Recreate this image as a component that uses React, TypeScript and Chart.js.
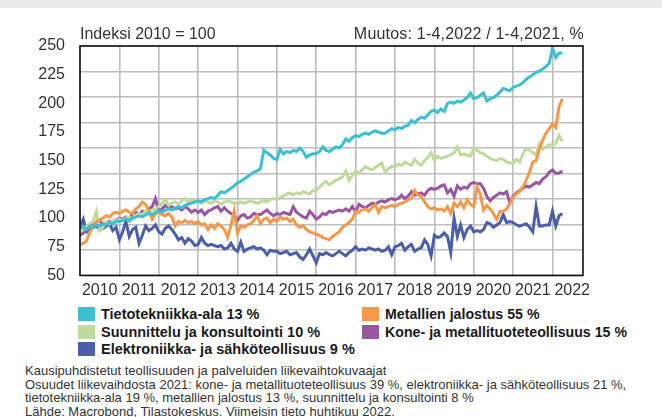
import React, { useEffect, useRef } from "react";
import { Chart, registerables } from "chart.js";

Chart.register(...registerables);

const START_YEAR = 2010;
const YEAR_LABELS = ["2010", "2011", "2012", "2013", "2014", "2015", "2016", "2017", "2018", "2019", "2020", "2021", "2022"];
const Y_TICKS = [50, 75, 100, 125, 150, 175, 200, 225, 250];

// Monthly index values (2010 = 100), Jan 2010 .. Apr 2022
const tietotekniikka = [
  91, 92, 90, 93, 92, 94, 93, 95, 94, 96, 95, 97,
  97, 98, 99, 98, 100, 101, 102, 101, 103, 104, 103, 105,
  106, 105, 107, 108, 107, 109, 110, 109, 111, 112, 113, 114,
  115, 114, 116, 117, 118, 117, 120, 123, 122, 124, 126, 128,
  131, 132, 134, 136, 138, 140, 141, 143, 159, 157, 155, 152,
  151, 160, 156, 158, 157, 159, 158, 161, 158, 153, 155, 156,
  156, 158, 162, 159, 158, 160, 162, 161, 164, 169, 167, 170,
  172, 171, 173, 174, 173, 175, 176, 175, 174, 174, 176, 178,
  177, 179, 178, 180, 181, 185, 183, 186, 188, 187, 190, 193,
  194, 192, 195, 193, 200, 201, 200, 202, 201, 203, 205, 209,
  204, 205, 207, 209, 202, 204, 205, 207, 210, 213, 212, 211,
  214, 215, 216, 218, 221, 223, 225, 227, 228, 230, 232, 235,
  248, 240, 244, 244,
];

const suunnittelu = [
  91, 90, 93, 95, 97, 106, 89, 92, 97, 95, 98, 97,
  99, 98, 100, 101, 99, 102, 104, 103, 106, 105, 107, 108,
  110, 113, 116, 111, 113, 114, 112, 115, 117, 114, 116, 115,
  114, 113, 115, 114, 113, 115, 114, 112, 114, 115, 114, 113,
  113, 114, 113, 114, 115, 114, 113, 114, 115, 114, 116, 117,
  116, 118, 119, 121, 122, 120, 122, 121, 123, 122, 121, 124,
  124, 127, 130, 132, 129, 131, 133, 134, 136, 141, 133, 137,
  141, 139, 142, 145, 143, 142, 144, 146, 148, 140, 143, 145,
  145, 147, 146, 149, 147, 146, 151, 148, 146, 150, 153, 157,
  150, 154, 152, 153, 154, 155, 157, 162, 155, 156, 155, 154,
  161, 159, 157, 156, 154, 152, 151, 150, 152, 151, 149, 148,
  148, 151, 149, 156, 161, 159, 157, 155, 165, 160, 162, 164,
  164, 165, 172, 167,
];

const elektroniikka = [
  92, 99, 88, 90, 92, 93, 90, 91, 93, 95, 89, 92,
  81, 88, 97, 84, 90, 92, 78, 85, 93, 89, 91, 94,
  88, 86, 91, 93, 90, 86, 81, 83, 78, 82, 80, 76,
  77, 83, 78, 76, 77, 76, 75, 76, 73, 74, 78, 73,
  71, 79, 71, 73, 74, 75, 73, 74, 72, 68, 72, 71,
  71, 69, 70, 71, 68, 69, 70, 66, 64, 68, 73, 67,
  61, 69, 68, 70, 68, 67, 69, 71, 69, 67, 70, 72,
  75, 72, 73, 72, 74, 73, 72, 73, 71, 72, 75, 68,
  75, 76, 78, 72, 75, 77, 71, 73, 74, 81, 77, 67,
  85, 83, 84, 87, 84, 70, 100, 84, 94, 83, 90, 93,
  88, 89, 88, 90, 96, 95, 92, 94, 96, 103, 96, 97,
  96, 94, 93, 94, 95, 92, 88, 110, 93, 93, 94, 94,
  106, 93, 102, 104,
];

const metallienJalostus = [
  77, 78, 80, 88, 92, 97, 98, 100, 102, 101, 104, 105,
  104, 106, 107, 105, 104, 108, 110, 114, 112, 106, 99, 104,
  105, 103, 102, 104, 101, 93, 97, 96, 98, 96, 97, 95,
  97, 94, 95, 90, 94, 91, 95, 93, 90, 83, 94, 106,
  87, 93, 92, 94, 95, 98, 102, 95, 99, 100, 96, 99,
  97, 101, 99, 100, 97, 99, 94, 92, 93, 90, 88, 87,
  86, 85, 83, 82, 81, 84, 86, 88, 92, 94, 96, 99,
  106, 105, 107, 108, 106, 109, 112, 105, 110, 109, 110, 111,
  110, 112, 113, 114, 116, 117, 124, 120, 119, 114, 110, 108,
  109, 107, 108, 106, 110, 104, 113, 110, 114, 109, 116, 112,
  110, 127, 121, 107, 111, 108, 104, 99, 106, 106, 108, 113,
  118, 121, 123, 127, 133, 140, 149, 150, 160, 168, 174, 178,
  182, 179, 197, 204,
];

const koneJaMetallituote = [
  85, 87, 90, 93, 96, 95, 98, 94, 96, 97, 95, 98,
  100, 99, 101, 98, 104, 105, 103, 106, 104, 108, 110, 117,
  106, 108, 111, 109, 110, 108, 109, 107, 110, 108, 105, 107,
  105, 107, 103, 106, 107, 109, 110, 106, 109, 106, 104, 103,
  98, 102, 103, 100, 101, 104, 103, 103, 105, 107, 104, 102,
  104, 103, 105, 104, 103, 110, 105, 103, 101, 100, 106, 103,
  99, 101, 104, 103, 106, 105, 106, 107, 106, 108, 106, 110,
  105, 112, 110, 109, 111, 113, 112, 114, 115, 114, 116, 117,
  116, 117, 120, 117, 119, 123, 120, 121, 122, 120, 124, 126,
  125, 126, 128, 129, 122, 125, 119, 128, 125, 127, 126, 130,
  131, 130, 130, 126, 119, 115, 118, 120, 122, 121, 123, 113,
  119, 122, 124, 126, 128, 127, 129, 131, 130, 134, 136, 140,
  142, 139, 139, 141,
];

const SERIES = [
  { label: "Tietotekniikka-ala 13 %", values: tietotekniikka, color: "#3dbfd3" },
  { label: "Metallien jalostus 55 %", values: metallienJalostus, color: "#f7974a" },
  { label: "Suunnittelu ja konsultointi 10 %", values: suunnittelu, color: "#bedb9c" },
  { label: "Kone- ja metallituoteteollisuus 15 %", values: koneJaMetallituote, color: "#9a56a3" },
  { label: "Elektroniikka- ja sähköteollisuus 9 %", values: elektroniikka, color: "#4a5ea9" },
];

const FOOTNOTES = [
  "Kausipuhdistetut teollisuuden ja palveluiden liikevaihtokuvaajat",
  "Osuudet liikevaihdosta 2021: kone- ja metallituoteteollisuus 39 %, elektroniikka- ja sähköteollisuus 21 %,",
  "tietotekniikka-ala 19 %, metallien jalostus 13 %, suunnittelu ja konsultointi 8 %",
  "Lähde: Macrobond, Tilastokeskus. Viimeisin tieto huhtikuu 2022.",
];

const FONT = "'Liberation Sans', Arial, sans-serif";
const GRID = "#bdbdbd";
const TEXT = "#333333";

const framePlugin = {
  id: "frame",
  afterDraw(chart: any) {
    const { ctx, chartArea } = chart;
    ctx.save();
    ctx.strokeStyle = "#111";
    ctx.lineWidth = 1.6;
    ctx.strokeRect(chartArea.left, chartArea.top, chartArea.right - chartArea.left, chartArea.bottom - chartArea.top);
    ctx.restore();
  },
};

function LineChart() {
  const ref = useRef<HTMLCanvasElement | null>(null);
  useEffect(() => {
    if (!ref.current) return;
    const chart = new Chart(ref.current, {
      type: "line",
      data: {
        datasets: SERIES.map((s) => ({
          label: s.label,
          data: s.values.map((v, i) => ({ x: i, y: v })),
          borderColor: s.color,
          backgroundColor: s.color,
          borderWidth: 3,
          pointRadius: 0,
          tension: 0,
          fill: false,
        })),
      },
      options: {
        responsive: false,
        maintainAspectRatio: false,
        animation: false,
        layout: { padding: { left: 0, right: 79, top: 46, bottom: 0 } },
        plugins: { legend: { display: false }, tooltip: { enabled: false }, title: { display: false } },
        scales: {
          x: {
            type: "linear",
            min: 0,
            max: 153.3,
            afterBuildTicks: (scale: any) => {
              scale.ticks = YEAR_LABELS.map((_, k) => ({ value: k * 12 }));
            },
            afterFit: (scale: any) => {
              scale.height = 24;
            },
            ticks: {
              autoSkip: false,
              maxRotation: 0,
              minRotation: 0,
              padding: 6,
              labelOffset: 19.7,
              color: TEXT,
              font: { family: FONT, size: 16 },
              callback: (v: any) => String(START_YEAR + Math.round(Number(v) / 12)),
            },
            grid: { color: GRID, lineWidth: 1.6, drawTicks: false },
            border: { display: false },
          },
          y: {
            type: "linear",
            position: "left",
            min: 50,
            max: 250,
            afterBuildTicks: (scale: any) => {
              scale.ticks = Y_TICKS.map((v) => ({ value: v }));
            },
            afterFit: (scale: any) => {
              scale.width = 80;
            },
            ticks: { padding: 15, color: TEXT, font: { family: FONT, size: 16 } },
            grid: { display: false, drawTicks: false },
            border: { display: false },
          },
          yGrid: {
            type: "linear",
            position: "right",
            min: 0,
            max: 9,
            ticks: { display: false, stepSize: 1 },
            afterFit: (scale: any) => {
              scale.width = 0;
            },
            grid: { color: GRID, lineWidth: 1.6, drawTicks: false },
            border: { display: false },
          },
        },
      },
      plugins: [framePlugin],
    } as any);
    return () => chart.destroy();
  }, []);
  return <canvas ref={ref} width={662} height={300} style={{ position: "absolute", left: 0, top: 0 }} />;
}

const legendItems = [
  { s: SERIES[0], left: 78, top: 307, size: 14.5 },
  { s: SERIES[2], left: 78, top: 324.5, size: 14.5 },
  { s: SERIES[4], left: 78, top: 342, size: 14.5 },
  { s: SERIES[1], left: 362, top: 307, size: 14.2 },
  { s: SERIES[3], left: 362, top: 324.5, size: 14.2 },
];

export default function App() {
  return (
    <div style={{ position: "absolute", left: 0, top: 0, width: 662, height: 417, background: "#fff", overflow: "hidden", fontFamily: FONT, color: TEXT }}>
      <div style={{ position: "absolute", left: 0, top: 0, width: 662, height: 8, background: "#ebebeb" }} />
      <LineChart />
      <div style={{ position: "absolute", left: 80, top: 26, fontSize: 16, lineHeight: "16px", whiteSpace: "nowrap" }}>Indeksi 2010 = 100</div>
      <div style={{ position: "absolute", right: 662 - 584, top: 26, fontSize: 16, lineHeight: "16px", whiteSpace: "nowrap", letterSpacing: 0.2 }}>Muutos: 1-4,2022 / 1-4,2021, %</div>
      {legendItems.map(({ s, left, top, size }) => (
        <div key={s.label} style={{ position: "absolute", left, top, height: 14, display: "flex", alignItems: "center", whiteSpace: "nowrap" }}>
          <div style={{ width: 17, height: 14, background: s.color, marginRight: 6 }} />
          <span style={{ fontWeight: 700, fontSize: size, color: "#1a1a1a" }}>{s.label}</span>
        </div>
      ))}
      <div style={{ position: "absolute", left: 25, top: 364, fontSize: 13, lineHeight: "13.6px", color: "#333", whiteSpace: "nowrap" }}>
        {FOOTNOTES.map((t) => (
          <div key={t}>{t}</div>
        ))}
      </div>
    </div>
  );
}
